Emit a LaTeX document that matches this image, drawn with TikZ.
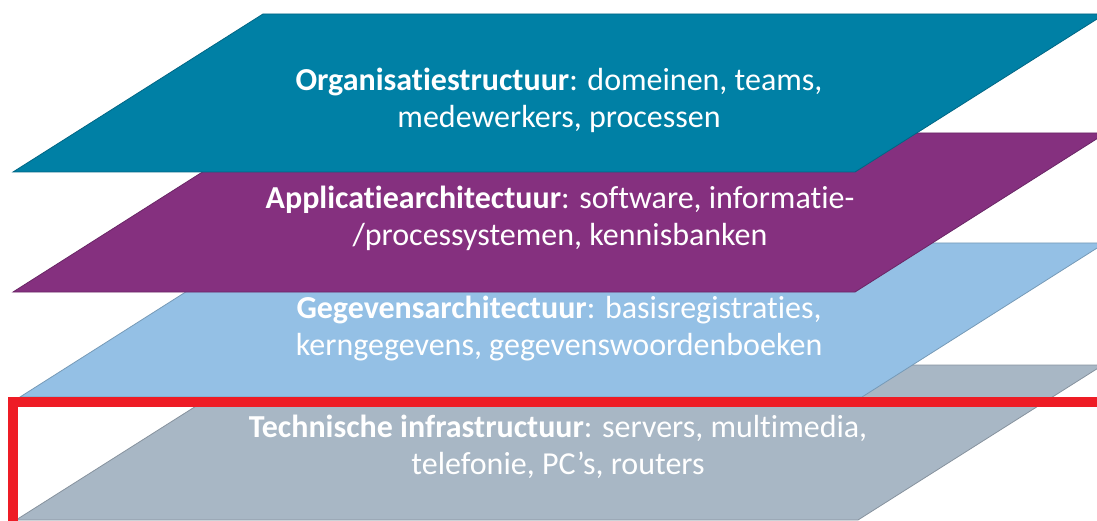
\documentclass[tikz,border=0pt]{standalone}
\usepackage{fontspec}
\setmainfont{Carlito}[Ligatures=NoCommon]
\usepackage{tikz}
\usepackage{xcolor}
\definecolor{colorOrg}{HTML}{0080A5}
\definecolor{colorApp}{HTML}{85307F}
\definecolor{colorGeg}{HTML}{94C0E5}
\definecolor{colorTec}{HTML}{A8B7C5}
\definecolor{rojo}{HTML}{EE1C25}

\begin{document}
\begin{tikzpicture}[x=1pt,y=-1pt,
		capa/.style={fill=#1, draw=#1!80!black, line width=0.8pt},
		texto/.style={text=white, align=center, font=\fontsize{32}{37}\selectfont}]
		\useasboundingbox (0,0) rectangle (1097,521);
		\clip (0,0) rectangle (1097,521);
		\draw[capa=colorTec] (16,520) -- (261,365) -- (1103,365) -- (858,520) -- cycle; % capa 4
		\draw[capa=colorGeg] (20,397) -- (263,243) -- (1105,243) -- (862,397) -- cycle; % capa 3
		\draw[capa=colorApp] (13,292) -- (264,133) -- (1106,133) -- (855,292) -- cycle; % capa 2
		\draw[capa=colorOrg] (13,172) -- (263,14) -- (1105,14) -- (855,172) -- cycle; % capa 1
		\node[texto] (org) at (559,100) {\textbf{Organisatiestructuur}: domeinen, teams,\\medewerkers, processen};
		\node[texto] (app) at (560,218) {\textbf{Applicatiearchitectuur}: software, informatie-\\/processystemen, kennisbanken};
		\node[texto] (geg) at (559,329) {\textbf{Gegevensarchitectuur}: basisregistraties,\\kerngegevens, gegevenswoordenboeken};
		\node[texto] (tec) at (558,447) {\textbf{Technische infrastructuur}: servers, multimedia,\\telefonie, PC’s, routers};
		\draw[rojo, line width=10pt] (13,600) -- (13,402) -- (1200,402); % marco
\end{tikzpicture}
\end{document}
